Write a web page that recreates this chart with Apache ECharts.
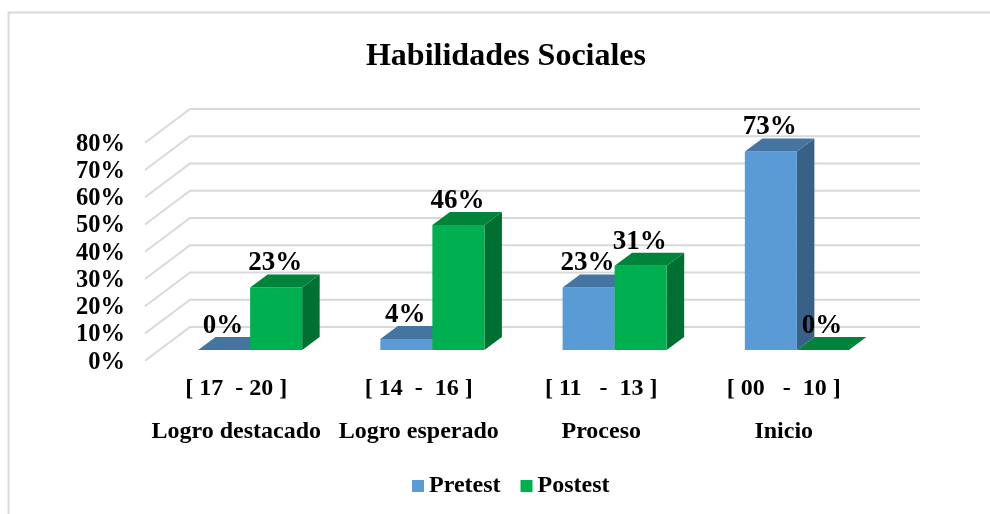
<!DOCTYPE html>
<html>
<head>
<meta charset="utf-8">
<style>
	html, body { margin: 0; padding: 0; background: #fff; }
	#container { width: 990px; height: 514px; }
</style>
<script src="https://cdn.jsdelivr.net/npm/echarts@6/dist/echarts.min.js"></script>
</head>
<body>
<div id="container"></div>
<script>
var rangos = ['[ 17  - 20 ]', '[ 14  -  16 ]', '[ 11   -  13 ]', '[ 00   -  10 ]'];
var niveles = ['Logro destacado', 'Logro esperado', 'Proceso', 'Inicio'];
var pretest = [0, 4, 23, 73];
var postest = [23, 46, 31, 0];
var ticks = [0, 10, 20, 30, 40, 50, 60, 70, 80];

var fuente = '"Liberation Serif", "Times New Roman", serif';
// profundidad del efecto 3D
var paredX = 45, paredY = 33.7;
var barraX = 17.5, barraY = 13;

// piso y pared del fondo
function dibujarPared(params, api) {
	var y = api.coord([0, api.value(0)])[1];
	var x0 = params.coordSys.x;
	var x1 = x0 + params.coordSys.width;
	return {
		type: 'polyline',
		shape: { points: [[x0, y], [x0 + paredX, y - paredY], [x1 + paredX, y - paredY]] },
		style: { fill: null, stroke: '#d9d9d9', lineWidth: 2 },
		silent: true
	};
}

function dibujarBarra(colores, indice) {
	return function (params, api) {
		var cat = api.value(0);
		var valor = api.value(1);
		var base = api.coord([cat, 0]);
		var tope = api.coord([cat, valor]);
		var ancho = api.size([1, 0])[0] * 0.2855;
		var x0 = base[0] + (indice - 1) * ancho;
		var x1 = x0 + ancho;
		var yb = base[1], yt = tope[1];
		var hijos = [];
		if (valor > 0) {
			hijos.push({
				type: 'polygon',
				shape: { points: [[x1, yb], [x1 + barraX, yb - barraY], [x1 + barraX, yt - barraY], [x1, yt]] },
				style: { fill: colores[2] }
			});
			hijos.push({
				type: 'rect',
				shape: { x: x0, y: yt, width: ancho, height: yb - yt },
				style: { fill: colores[0] }
			});
		}
		hijos.push({
			type: 'polygon',
			shape: { points: [[x0, yt], [x0 + barraX, yt - barraY], [x1 + barraX, yt - barraY], [x1, yt]] },
			style: { fill: colores[1] }
		});
		hijos.push({
			type: 'text',
			style: {
				x: (x0 + x1) / 2 - 1,
				y: yt - 24,
				text: valor + '%',
				fill: '#000',
				font: 'bold 27px ' + fuente,
				align: 'center',
				verticalAlign: 'middle'
			}
		});
		return { type: 'group', children: hijos };
	};
}

function datosBarra(valores) {
	return valores.map(function (v, i) { return [i, v]; });
}

var option = {
	backgroundColor: '#fff',
	animation: false,
	title: {
		text: 'Habilidades Sociales',
		left: 501,
		top: 36,
		textAlign: 'center',
		textStyle: { fontFamily: fuente, fontWeight: 'bold', fontSize: 32, color: '#000' }
	},
	legend: {
		left: 407,
		top: 469,
		itemWidth: 12,
		itemHeight: 12,
		itemGap: 20,
		icon: 'rect',
		data: ['Pretest', 'Postest'],
		textStyle: { fontFamily: fuente, fontWeight: 'bold', fontSize: 24, color: '#000' }
	},
	grid: [
		// plano frontal: ejes y etiquetas
		{ left: 145, width: 730, top: 142.7, height: 218 },
		// plano de las barras
		{ left: 159, width: 729, top: 132.4, height: 217.6 }
	],
	xAxis: [
		{
			type: 'category',
			gridIndex: 0,
			data: niveles,
			axisLine: { show: false },
			axisTick: { show: false },
			axisLabel: {
				margin: 7,
				interval: 0,
				formatter: function (valor, i) {
					return '{r|' + rangos[i] + '}\n{n|' + valor + '}';
				},
				rich: {
					r: { fontFamily: fuente, fontWeight: 'bold', fontSize: 24, color: '#000', lineHeight: 43 },
					n: { fontFamily: fuente, fontWeight: 'bold', fontSize: 24, color: '#000', lineHeight: 43 }
				}
			}
		},
		{
			type: 'category',
			gridIndex: 1,
			data: niveles,
			axisLine: { show: false },
			axisTick: { show: false },
			axisLabel: { show: false }
		}
	],
	yAxis: [
		{
			type: 'value',
			gridIndex: 0,
			min: 0,
			max: 80,
			interval: 10,
			axisLine: { show: false },
			axisTick: { show: false },
			splitLine: { show: false },
			axisLabel: {
				margin: 20,
				formatter: '{p|{value}%}',
				rich: {
					p: { padding: [3, 0, 0, 0], fontFamily: fuente, fontWeight: 'bold', fontSize: 24.5, color: '#000' }
				}
			}
		},
		{
			type: 'value',
			gridIndex: 1,
			min: 0,
			max: 80,
			interval: 10,
			axisLine: { show: false },
			axisTick: { show: false },
			splitLine: { show: false },
			axisLabel: { show: false }
		}
	],
	graphic: [{
		type: 'polyline',
		shape: { points: [[8.5, 514], [8.5, 12.5], [990, 12.5]] },
		style: { fill: null, stroke: '#d9d9d9', lineWidth: 2 },
		silent: true
	}],
	series: [
		{
			type: 'custom',
			xAxisIndex: 0,
			yAxisIndex: 0,
			renderItem: dibujarPared,
			encode: { y: 0 },
			data: ticks.map(function (t) { return [t]; }),
			silent: true,
			z: 1
		},
		{
			name: 'Pretest',
			type: 'custom',
			xAxisIndex: 1,
			yAxisIndex: 1,
			itemStyle: { color: '#5B9BD5' },
			renderItem: dibujarBarra(['#5B9BD5', '#44749F', '#396188'], 0),
			encode: { x: 0, y: 1 },
			data: datosBarra(pretest),
			z: 2
		},
		{
			name: 'Postest',
			type: 'custom',
			xAxisIndex: 1,
			yAxisIndex: 1,
			itemStyle: { color: '#00B050' },
			renderItem: dibujarBarra(['#00B050', '#00843C', '#006F32'], 1),
			encode: { x: 0, y: 1 },
			data: datosBarra(postest),
			z: 3
		}
	]
};

var myChart = echarts.init(document.getElementById('container'));
myChart.setOption(option);
</script>
</body>
</html>
